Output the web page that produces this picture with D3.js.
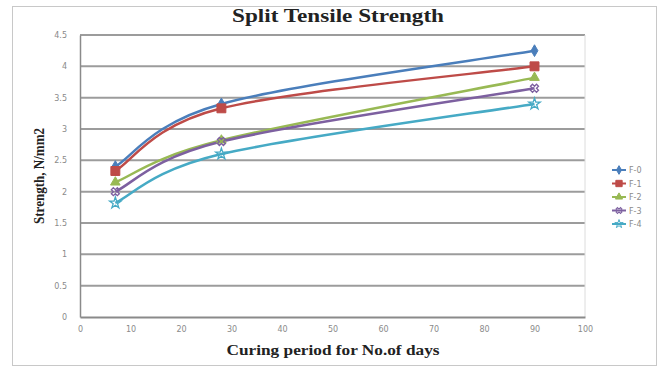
<!DOCTYPE html>
<html lang="en">
<head>
  <meta charset="UTF-8">
  <title>Split Tensile Strength</title>
  <style>
    body { margin: 0; padding: 0; background: #fff; }
    svg { display: block; }
    .tick text { font: 8px 'DejaVu Sans', sans-serif; fill: #8a8a8a; }
    .title { font: bold 18px 'Liberation Serif', serif; fill: #222; }
    .axis-title { font: bold 14px 'Liberation Serif', serif; fill: #222; }
    .legend text { font: 8px 'DejaVu Sans', sans-serif; fill: #8a8a8a; }
  </style>
</head>
<body>
  <svg width="664" height="367"></svg>
  <script src="https://d3js.org/d3.v7.min.js"></script>
  <script>
    const days = [7, 28, 90];
    const seriesNames = ["F-0", "F-1", "F-2", "F-3", "F-4"];
    const f0 = [2.4, 3.4, 4.25];
    const f1 = [2.33, 3.33, 4.0];
    const f2 = [2.15, 2.82, 3.82];
    const f3 = [2.0, 2.8, 3.65];
    const f4 = [1.82, 2.6, 3.4];
    const xTicks = [0, 10, 20, 30, 40, 50, 60, 70, 80, 90, 100];
    const yTicks = [0, 0.5, 1, 1.5, 2, 2.5, 3, 3.5, 4, 4.5];

    const colors = ["#4a7ebb", "#be4b48", "#98b954", "#7d60a0", "#46aac5"];
    const shapes = [d3.symbolDiamond, d3.symbolSquare, d3.symbolTriangle, d3.symbolCross, d3.symbolStar];
    const series = [f0, f1, f2, f3, f4].map((vals, i) => ({
      name: seriesNames[i],
      color: colors[i],
      shape: shapes[i],
      points: days.map((d, j) => ({ x: d, y: vals[j] }))
    }));

    const svg = d3.select("svg");

    // outer chart frame
    svg.append("rect")
      .attr("x", 12.5).attr("y", 6.5)
      .attr("width", 644).attr("height", 359)
      .attr("fill", "#fff").attr("stroke", "#c8c8c8");

    const x = d3.scaleLinear().domain([0, 100]).range([80, 585]);
    const y = d3.scaleLinear().domain([0, 4.5]).range([317, 35]);

    // gridlines
    svg.append("g").selectAll("line")
      .data(yTicks.filter(t => t > 0))
      .enter().append("line")
      .attr("x1", x(0)).attr("x2", x(100))
      .attr("y1", d => y(d)).attr("y2", d => y(d))
      .attr("stroke", "#9c9c9c").attr("stroke-width", 2);

    // right edge of plot
    svg.append("line")
      .attr("x1", x(100)).attr("x2", x(100))
      .attr("y1", y(4.5)).attr("y2", y(0))
      .attr("stroke", "#dcdcdc");

    const xAxis = svg.append("g")
      .attr("transform", `translate(0,${y(0)})`)
      .call(d3.axisBottom(x).tickValues(xTicks).tickSize(0).tickPadding(9));
    xAxis.select(".domain").attr("stroke", "#8a8a8a").attr("stroke-width", 2);

    const yAxis = svg.append("g")
      .attr("transform", `translate(${x(0)},0)`)
      .call(d3.axisLeft(y).tickValues(yTicks).tickFormat(d3.format("~g")).tickSize(0).tickPadding(13));
    yAxis.select(".domain").attr("stroke", "#8a8a8a").attr("stroke-width", 1.5);

    // Excel-style smoothed line: cubic Bezier, control points from neighbours / 6
    function smoothPath(pts) {
      const p = pts.map(d => [x(d.x), y(d.y)]);
      const path = d3.path();
      path.moveTo(p[0][0], p[0][1]);
      for (let i = 0; i < p.length - 1; i++) {
        const p0 = p[Math.max(i - 1, 0)];
        const p1 = p[i];
        const p2 = p[i + 1];
        const p3 = p[Math.min(i + 2, p.length - 1)];
        path.bezierCurveTo(
          p1[0] + (p2[0] - p0[0]) / 6, p1[1] + (p2[1] - p0[1]) / 6,
          p2[0] - (p3[0] - p1[0]) / 6, p2[1] - (p3[1] - p1[1]) / 6,
          p2[0], p2[1]);
      }
      return path.toString();
    }

    const g = svg.append("g");
    series.forEach(s => {
      g.append("path")
        .attr("d", smoothPath(s.points))
        .attr("fill", "none")
        .attr("stroke", s.color)
        .attr("stroke-width", 2.5);
    });
    series.forEach((s, i) => {
      g.selectAll(null)
        .data(s.points)
        .enter().append("path")
        .attr("transform", d => `translate(${x(d.x)},${y(d.y)})` + (i === 3 ? " rotate(45)" : ""))
        .attr("d", d3.symbol().type(s.shape).size(i === 1 ? 80 : 40))
        .attr("fill", i >= 3 ? "none" : s.color)
        .attr("stroke", s.color)
        .attr("stroke-width", i >= 3 ? 1.3 : 1);
    });

    // titles
    svg.append("text").attr("class", "title")
      .attr("x", 338).attr("y", 22)
      .attr("text-anchor", "middle")
      .attr("textLength", 212).attr("lengthAdjust", "spacingAndGlyphs")
      .text("Split Tensile Strength");

    svg.append("text").attr("class", "axis-title")
      .attr("x", 333).attr("y", 355)
      .attr("text-anchor", "middle")
      .attr("textLength", 213).attr("lengthAdjust", "spacingAndGlyphs")
      .text("Curing period for No.of days");

    svg.append("text").attr("class", "axis-title")
      .attr("transform", "translate(44,176) rotate(-90)")
      .attr("text-anchor", "middle")
      .attr("font-size", 13)
      .attr("textLength", 96).attr("lengthAdjust", "spacingAndGlyphs")
      .text("Strength, N/mm2");

    // legend
    const legend = svg.append("g").attr("class", "legend");
    series.forEach((s, i) => {
      const ly = 170 + i * 13.5;
      legend.append("line")
        .attr("x1", 612).attr("x2", 626)
        .attr("y1", ly).attr("y2", ly)
        .attr("stroke", s.color).attr("stroke-width", 2);
      legend.append("path")
        .attr("transform", `translate(619,${ly})` + (i === 3 ? " rotate(45)" : ""))
        .attr("d", d3.symbol().type(s.shape).size(i === 1 ? 40 : 22))
        .attr("fill", i >= 3 ? "none" : s.color)
        .attr("stroke", s.color);
      legend.append("text")
        .attr("x", 629).attr("y", ly + 3)
        .text(s.name);
    });
  </script>
</body>
</html>
